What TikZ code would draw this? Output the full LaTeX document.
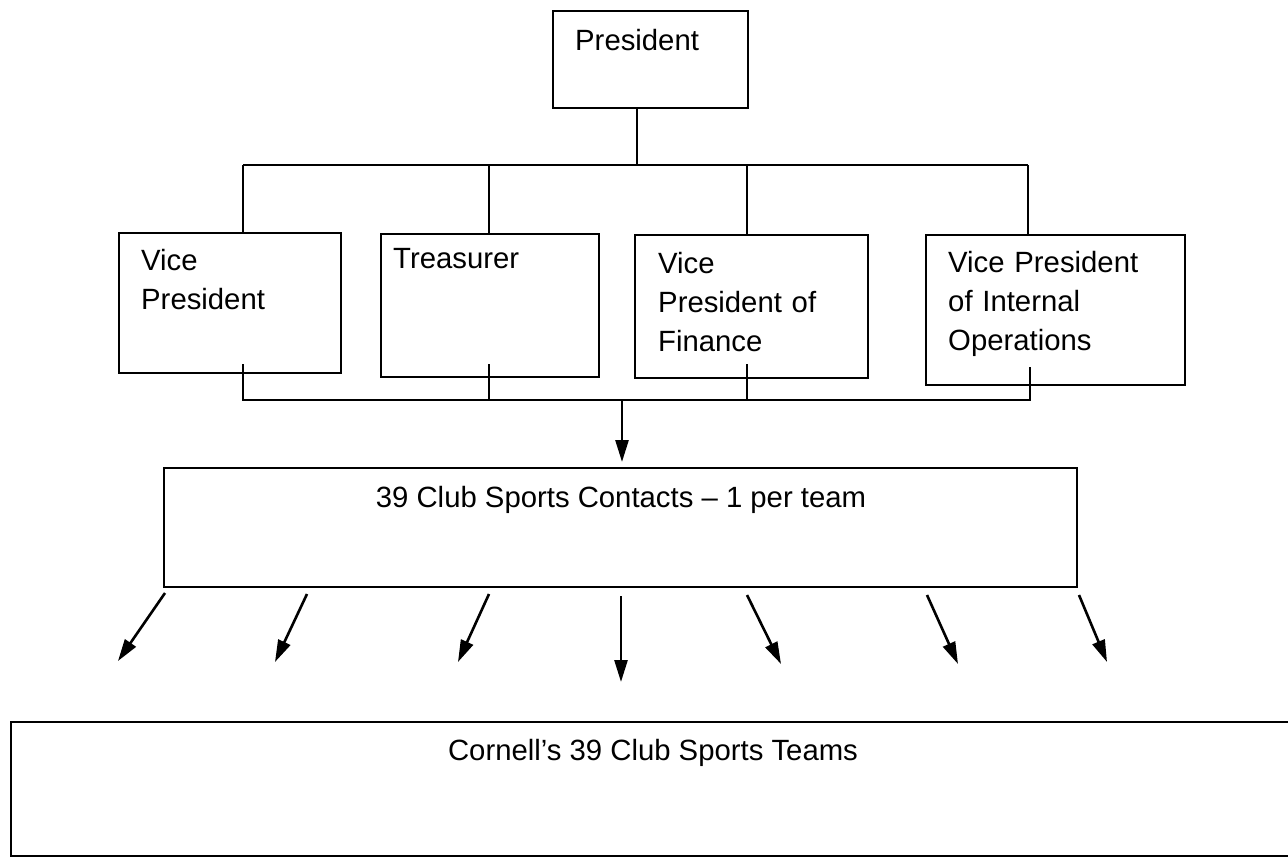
\documentclass[tikz,border=0pt]{standalone}
\usepackage{fontspec}
\setmainfont{Liberation Sans}
\usetikzlibrary{arrows.meta}
\begin{document}
\begin{tikzpicture}[x=1pt,y=-1pt,
  box/.style={draw, line width=2.3pt, rectangle, inner sep=0pt, outer sep=0pt, anchor=north west},
  lbl/.style={font=\fontsize{29.3}{39}\selectfont, align=left, text width=#1, anchor=base west, inner sep=0pt},
  ctext/.style={font=\fontsize{29.3}{39}\selectfont, anchor=base, inner sep=0pt},
  conn/.style={line width=2.2pt},
  arr/.style={line width=2.6pt, -{Triangle[length=22pt,width=13pt]}}]
\useasboundingbox (0,0) rectangle (1288,857);
\clip (0,0) rectangle (1288,857);

% boxes
\node[box, minimum width=195pt, minimum height=97pt] (pres) at (553,11) {};
\node[box, minimum width=222pt, minimum height=140pt] (vp) at (119,233) {};
\node[box, minimum width=218pt, minimum height=143pt] (tres) at (381,234) {};
\node[box, minimum width=233pt, minimum height=143pt] (vpf) at (635,235) {};
\node[box, minimum width=259pt, minimum height=150pt] (vpio) at (926,235) {};
\node[box, minimum width=913pt, minimum height=119pt] (contacts) at (164,468) {};
\node[box, minimum width=1300pt, minimum height=134pt] (teams) at (11,722) {};

% texts
\node[lbl=150pt] (tpres) at (575,50) {President};
\node[lbl=190pt] (tvp) at (141,270) {Vice\\President};
\node[lbl=190pt] (ttres) at (393,268) {Treasurer};
\node[lbl=200pt] (tvpf) at (658,273) {Vice\\President of\\Finance};
\node[lbl=230pt] (tvpio) at (948,272) {Vice President\\of Internal\\Operations};
\node[ctext] (tcontacts) at (621,507) {39 Club Sports Contacts – 1 per team};
\node[ctext] (tteams) at (653,760) {Cornell’s 39 Club Sports Teams};

% top tree
\coordinate (tb) at (637,165);
\coordinate (tbl) at (243,165);
\coordinate (tbr) at (1028,165);
\draw[conn] (pres.south -| tb) -- (tb);
\draw[conn] (tbl) -- (tbr);
\draw[conn] (tbl) -- (tbl |- vp.north);
\draw[conn] (489,165) -- (489,0 |- tres.north);
\draw[conn] (747,165) -- (747,0 |- vpf.north);
\draw[conn] (tbr) -- (tbr |- vpio.north);

% bottom bus
\coordinate (bbl) at (242,400);
\coordinate (bbr) at (1031,400);
\coordinate (bbm) at (622,400);
\draw[conn] (bbl) -- (bbr);
\draw[conn] (243,364) -- (243,400);
\draw[conn] (489,364) -- (489,400);
\draw[conn] (747,364) -- (747,400);
\draw[conn] (1030,367) -- (1030,400);
\coordinate (ctip) at (622,462);
\draw[arr] (bbm) -- (ctip);

% fan-out arrows
\coordinate (s1) at (165,593); \coordinate (e1) at (118,661);
\coordinate (s2) at (307,594); \coordinate (e2) at (275,662);
\coordinate (s3) at (489,594); \coordinate (e3) at (458,662);
\coordinate (s4) at (621,596); \coordinate (e4) at (621,682);
\coordinate (s5) at (747,595); \coordinate (e5) at (781,664);
\coordinate (s6) at (927,595); \coordinate (e6) at (958,664);
\coordinate (s7) at (1079,595); \coordinate (e7) at (1107,662);
\foreach \i in {1,...,7} { \draw[arr] (s\i) -- (e\i); }
\end{tikzpicture}
\end{document}
